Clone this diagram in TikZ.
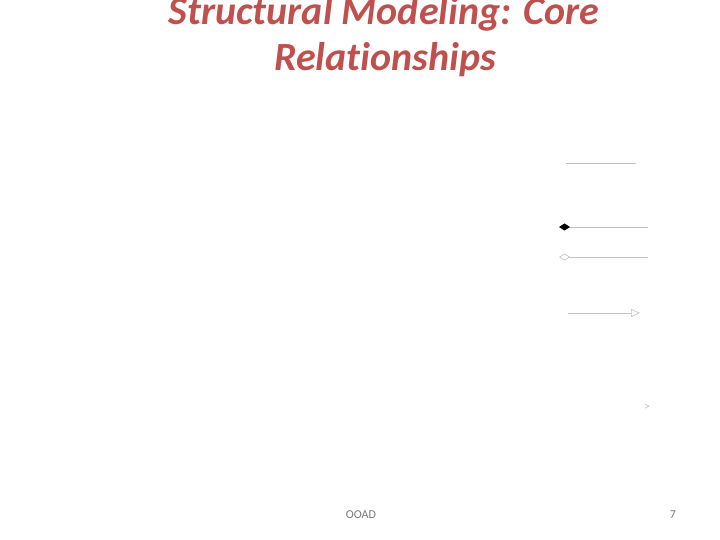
\documentclass[tikz,border=0pt]{standalone}
\usepackage{fontspec}
\setmainfont{Carlito}[Ligatures=NoCommon]
\usetikzlibrary{arrows.meta}
\definecolor{titlered}{RGB}{192,80,77}
\definecolor{linegray}{RGB}{195,195,195}
\definecolor{footgray}{RGB}{120,120,120}
\tikzset{
  titletext/.style={font=\fontsize{40}{46}\selectfont\bfseries\itshape, text=titlered, inner sep=0pt, anchor=center},
  rel/.style={draw=linegray, line width=0.7pt},
  foot/.style={font=\fontsize{12}{14}\selectfont, text=footgray, inner sep=0pt},
}
\begin{document}
\begin{tikzpicture}[x=1pt,y=-1pt]
\useasboundingbox (0,0) rectangle (720,540);
\node[titletext] (t1) at (384,14) {Structural Modeling: Core};
\node[titletext] (t2) at (385,60) {Relationships};
% plain association
\coordinate (a1) at (566,163); \coordinate (a2) at (636,163);
\draw[rel] (a1) -- (a2);
% composition
\coordinate (c1) at (559,227); \coordinate (c2) at (648,227);
\draw[rel, {Diamond[fill=black,color=black,length=11pt,width=7pt]}-] (c1) -- (c2);
% aggregation
\coordinate (g1) at (559,257); \coordinate (g2) at (648,257);
\draw[rel, {Diamond[open,length=11pt,width=7pt,line width=0.6pt]}-] (g1) -- (g2);
% generalization
\coordinate (s1) at (568,313); \coordinate (s2) at (640,313);
\draw[rel, -{Triangle[open,length=9pt,width=8pt,line width=0.6pt]}] (s1) -- (s2);
% dependency head
\node[font=\fontsize{12}{14}\selectfont, text=linegray, inner sep=0pt] (d) at (647,407) {>};
% footer
\node[foot] (f1) at (361,515) {OOAD};
\node[foot] (f2) at (673,515) {7};
\end{tikzpicture}
\end{document}
